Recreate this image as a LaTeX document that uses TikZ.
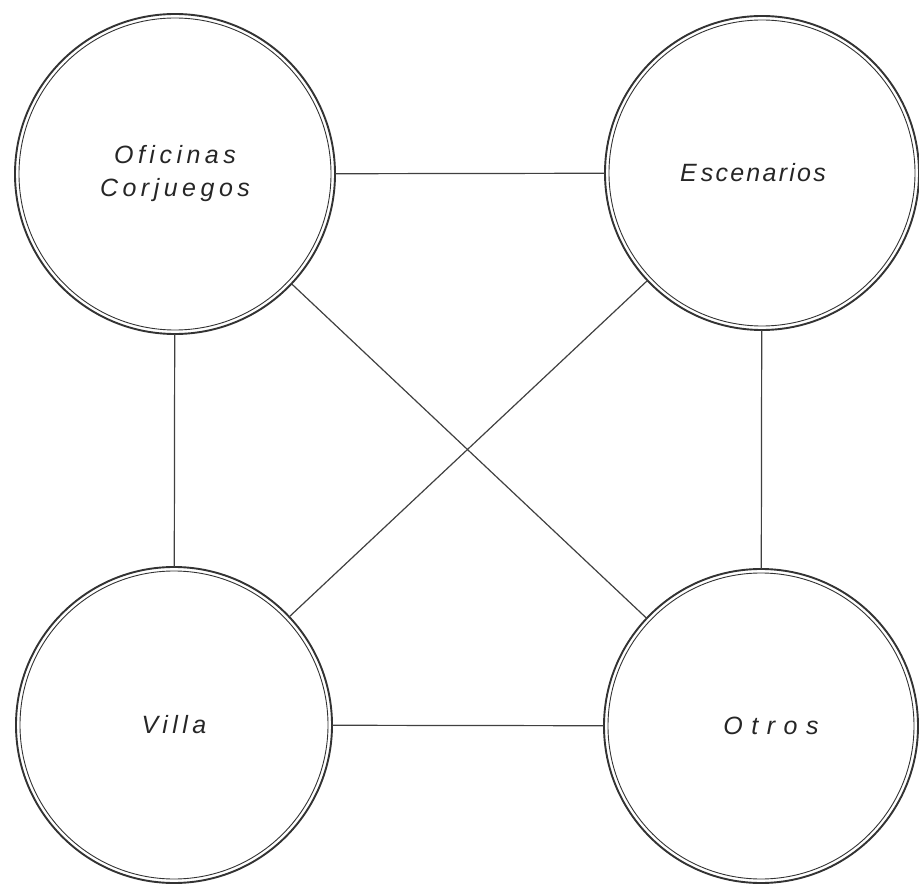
\documentclass[tikz,border=0pt]{standalone}
\usepackage{fontspec}
\setmainfont{Liberation Sans}
\newfontfamily\labelfont[LetterSpace=18]{Liberation Sans}
\newfontfamily\narrowlabelfont[LetterSpace=9]{Liberation Sans}
\newfontfamily\widelabelfont[LetterSpace=34]{Liberation Sans}
\begin{document}
\begin{tikzpicture}[x=1pt,y=-1pt,
  ink/.style={draw=black!80},
  place/.style={ink, circle, line width=1.9pt, inner sep=0pt, outer sep=0pt,
     font=\labelfont\itshape\fontsize{25}{33}\selectfont, text=black!85, align=center},
  innerring/.style={ink, line width=0.9pt},
  link/.style={draw=black!75, line width=1.2pt}]
\useasboundingbox (0,0) rectangle (919,885);
\node[place, minimum size=320pt] (of) at (175,174) {Oficinas\\Corjuegos};
\node[place, minimum size=314pt] (es) at (762,173) {\narrowlabelfont\itshape E\hspace{4pt}scenarios\hspace{18pt}};
\node[place, minimum size=316pt] (vi) at (174,725) {Villa};
\node[place, minimum size=314pt] (ot) at (761,726) {\hspace{20pt}\widelabelfont\itshape Otros};
\draw[innerring] (of.center) circle (156pt);
\draw[innerring] (es.center) circle (153pt);
\draw[innerring] (vi.center) circle (154pt);
\draw[innerring] (ot.center) circle (153pt);
\draw[link] (of) -- (es);
\draw[link] (of) -- (vi);
\draw[link] (es) -- (ot);
\draw[link] (vi) -- (ot);
\draw[link] (of) -- (ot);
\draw[link] (es) -- (vi);
\end{tikzpicture}
\end{document}
